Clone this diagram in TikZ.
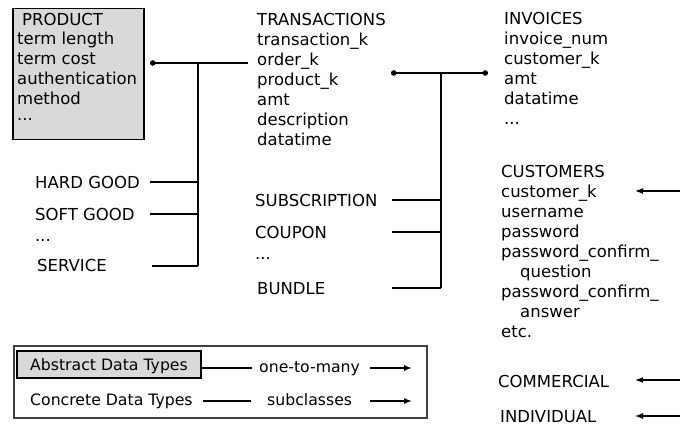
\documentclass[tikz,border=0pt]{standalone}
\usepackage{fontspec}
\setmainfont{DejaVu Sans}
\usetikzlibrary{arrows.meta}
\definecolor{boxgray}{HTML}{D9D9D9}
\definecolor{framegray}{HTML}{404040}
\begin{document}
\begin{tikzpicture}[x=1pt,y=-1pt,
  txt/.style={font=\fontsize{16.5}{20}\selectfont, inner sep=0pt, anchor=base west},
  lbl/.style={font=\fontsize{16.5}{20}\selectfont, inner sep=0pt, anchor=west,
              text height=12pt, text depth=0pt},
  leg/.style={font=\fontsize{15.7}{19}\selectfont, inner sep=0pt,
              text height=12pt, text depth=0pt},
  conn/.style={line width=1.4pt},
  dotted ends/.style={conn, {Circle[length=5.5pt]}-{Circle[length=5.5pt]}},
  dot start/.style={conn, {Circle[length=5.5pt]}-},
  arrow/.style={conn, -{Latex[length=8pt,width=6pt]}}
]
\useasboundingbox (0,0) rectangle (680,425);

% ---------- PRODUCT entity ----------
\node[draw, fill=boxgray, line width=1.5pt, minimum width=131pt, minimum height=131pt,
      inner sep=0pt, anchor=north west] (prod) at (12,8) {};
\node[txt] (pr1) at (22,26)  {PRODUCT};
\node[txt] (pr2) at (17,45)  {term length};
\node[txt] (pr3) at (17,65)  {term cost};
\node[txt] (pr4) at (17,85)  {authentication};
\node[txt] (pr5) at (17,105) {method};
\node[txt] (pr6) at (17,121) {...};

% ---------- TRANSACTIONS entity ----------
\foreach \yy/\t [count=\i] in {26/TRANSACTIONS, 46/transaction\_k, 66/order\_k,
    86/product\_k, 106/amt, 126/description, 146/datatime}
  \node[txt] (tr\i) at (257,\yy) {\t};

% ---------- INVOICES entity ----------
\foreach \yy/\t [count=\i] in {25/INVOICES, 45/invoice\_num, 65/customer\_k,
    85/amt, 105/datatime}
  \node[txt] (inv\i) at (504,\yy) {\t};
\node[txt] (inv6) at (504,125) {...};

% ---------- CUSTOMERS entity ----------
\foreach \xx/\yy/\t [count=\i] in {501/178/CUSTOMERS, 501/197/customer\_k,
    501/217/username, 501/237/password, 501/257/password\_confirm\_,
    520/277/question, 501/297/password\_confirm\_, 520/317/answer, 501/337/etc.}
  \node[txt] (cu\i) at (\xx,\yy) {\t};

% ---------- product subclasses ----------
\node[lbl] (hg) at (35,182) {HARD GOOD};
\node[lbl] (sg) at (35,214) {SOFT GOOD};
\node[lbl] (pe) at (35,235) {...};
\node[lbl] (sv) at (37,265) {SERVICE};

% ---------- transaction subclasses ----------
\node[lbl] (sub) at (255,200) {SUBSCRIPTION};
\node[lbl] (cou) at (255,232) {COUPON};
\node[lbl] (te)  at (255,253) {...};
\node[lbl] (bun) at (257,288) {BUNDLE};

% ---------- customer subclasses ----------
\node[lbl] (com) at (498,381) {COMMERCIAL};
\node[lbl] (ind) at (500,416) {INDIVIDUAL};

% ---------- PRODUCT -> TRANSACTIONS (one-to-many) ----------
\coordinate (pa) at (150,63);
\coordinate (pb) at (248,63);
\coordinate (pv) at (198,63);
\coordinate (pvb) at (198,266);
\coordinate (lx) at (150,0);
\coordinate (lxs) at (152,266);
\draw[dot start] (pa) -- (pb);
\draw[conn] (pv) -- (pvb);
\draw[conn] (hg.east -| lx) -- (hg.east -| pv);
\draw[conn] (sg.east -| lx) -- (sg.east -| pv);
\draw[conn] (lxs) -- (pvb);

% ---------- TRANSACTIONS <-> INVOICES ----------
\coordinate (ta) at (391,73);
\coordinate (tb) at (488,73);
\coordinate (tv) at (441,73);
\coordinate (tvb) at (441,288);
\coordinate (rx) at (392,0);
\draw[dotted ends] (ta) -- (tb);
\draw[conn] (tv) -- (tvb);
\draw[conn] (sub.east -| rx) -- (sub.east -| tv);
\draw[conn] (cou.east -| rx) -- (cou.east -| tv);
\draw[conn] (tvb -| rx) -- (tvb);

% ---------- incoming arrows on the right ----------
\coordinate (ca) at (680,191);
\coordinate (cb) at (635,191);
\coordinate (ma) at (680,380);
\coordinate (mb) at (635,380);
\coordinate (ia) at (680,416);
\coordinate (ib) at (635,416);
\draw[arrow] (ca) -- (cb);
\draw[arrow] (ma) -- (mb);
\draw[arrow] (ia) -- (ib);

% ---------- legend ----------
\node[draw=framegray, line width=1.5pt, minimum width=413pt, minimum height=72pt,
      inner sep=0pt, anchor=north west] (legend) at (13,345) {};
\node[leg, draw, fill=boxgray, line width=1.2pt, minimum width=184pt,
      minimum height=27pt] (abs) at (109,364.5) {Abstract Data Types};
\node[leg, anchor=west] (otm) at (259,366) {one-to-many};
\node[leg, anchor=west] (cdt) at (30,399) {Concrete Data Types};
\node[leg, anchor=west] (scl) at (267,399) {subclasses};
\coordinate (la) at (252,368);
\coordinate (lb) at (370,368);
\coordinate (lc) at (412,368);
\coordinate (ld) at (203,401);
\coordinate (le) at (251,401);
\coordinate (lf) at (370,401);
\coordinate (lg) at (412,401);
\draw[conn] (abs.east |- la) -- (la);
\draw[arrow] (lb) -- (lc);
\draw[conn] (ld) -- (le);
\draw[arrow] (lf) -- (lg);
\end{tikzpicture}
\end{document}
